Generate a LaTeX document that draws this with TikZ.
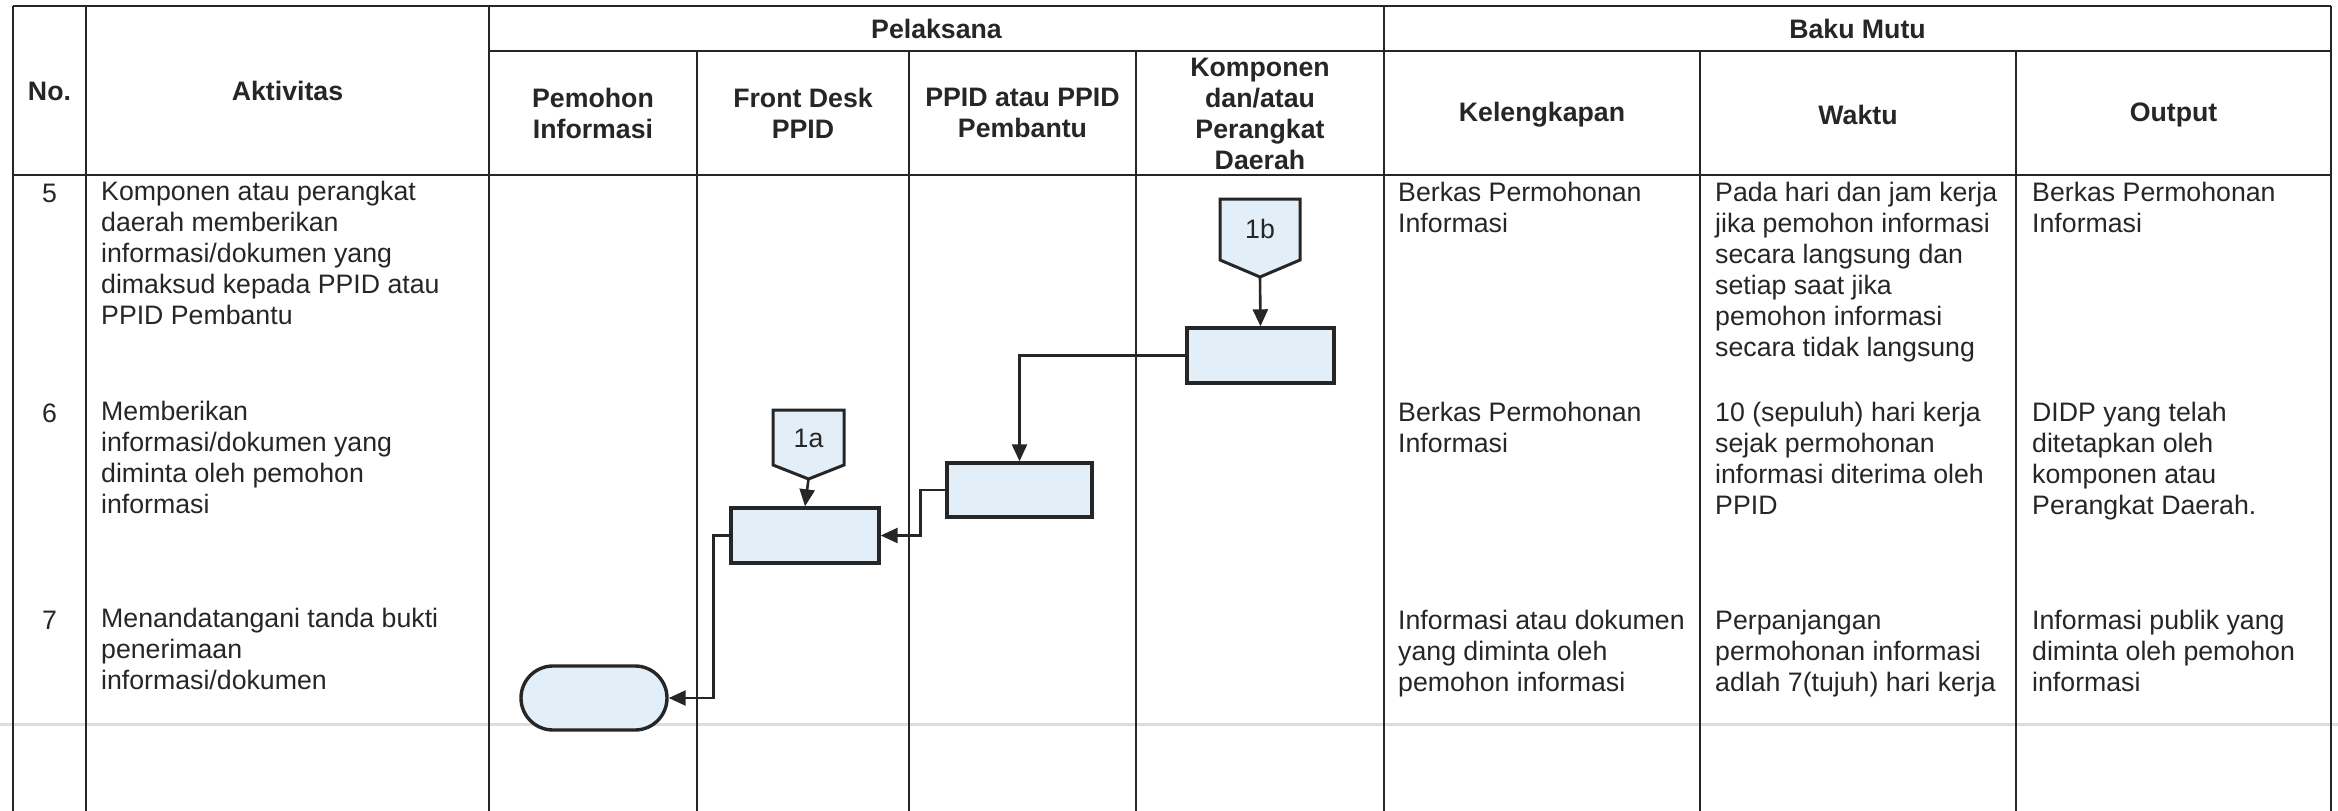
\documentclass[tikz,border=0pt]{standalone}
\usepackage{fontspec}
\setmainfont{Liberation Sans}
\usetikzlibrary{arrows.meta,calc}
\definecolor{ink}{HTML}{262626}
\definecolor{boxfill}{HTML}{E2EFF9}
\definecolor{scanline}{HTML}{DDDDDD}
\begin{document}
\begin{tikzpicture}[x=1pt,y=-1pt,
  tline/.style={draw=ink, line width=2.6pt},
  txt/.style={font=\fontsize{26.7}{31}\selectfont, text=ink, inner sep=0pt},
  cell/.style={txt, anchor=north west, align=left, execute at begin node=\strut},
  numcell/.style={txt, anchor=north, execute at begin node=\strut},
  hdr/.style={font=\bfseries\fontsize{26.7}{31}\selectfont, text=ink, inner sep=0pt, align=center},
  proc/.style={draw=ink, fill=boxfill, line width=3.4pt, rectangle, inner sep=0pt},
  term/.style={proc, rounded corners=32pt, minimum width=146pt, minimum height=64pt},
  offpage/.style={draw=ink, fill=boxfill, line width=3pt, line join=miter},
  conn/.style={draw=ink, line width=2.6pt, -{Triangle[length=17pt,width=15pt]}}
]
\useasboundingbox (0,0) rectangle (2338,811);
\fill[white] (0,0) rectangle (2338,811);
% faint scan line
\draw[scanline, line width=3pt] (0,724) -- (2338,724);

% table grid
\draw[tline] (13,6) -- (2331,6);
\draw[tline] (489,51) -- (2331,51);
\draw[tline] (13,175) -- (2331,175);
\foreach \xx in {13,86,489,1384,2331} \draw[tline] (\xx,6) -- (\xx,811);
\foreach \xx in {697,909,1136,1700,2016} \draw[tline] (\xx,51) -- (\xx,811);

% headers
\node[hdr] (hno) at (49.5,91) {No.};
\node[hdr] (hakt) at (287.5,91) {Aktivitas};
\node[hdr] (hpel) at (936.5,29) {Pelaksana};
\node[hdr] (hbaku) at (1857.5,29) {Baku Mutu};
\node[hdr] (hpem) at (593,113) {Pemohon\\Informasi};
\node[hdr] (hfd) at (803,113) {Front Desk\\PPID};
\node[hdr] (hppid) at (1022.5,113) {PPID atau PPID\\Pembantu};
\node[hdr] (hkomp) at (1260,114) {Komponen\\dan/atau\\Perangkat\\Daerah};
\node[hdr] (hkel) at (1542,115) {Kelengkapan};
\node[hdr] (hwak) at (1858,115) {Waktu};
\node[hdr] (hout) at (2173.5,115) {Output};

% row 5
\node[numcell] (n5) at (49.5,181) {5};
\node[cell] (a5) at (101,181) {Komponen atau perangkat\\daerah memberikan\\informasi/dokumen yang\\dimaksud kepada PPID atau\\PPID Pembantu};
\node[cell] (k5) at (1398,182) {Berkas Permohonan\\Informasi};
\node[cell] (w5) at (1715,182) {Pada hari dan jam kerja\\jika pemohon informasi\\secara langsung dan\\setiap saat jika\\pemohon informasi\\secara tidak langsung};
\node[cell] (o5) at (2032,182) {Berkas Permohonan\\Informasi};

% row 6
\node[numcell] (n6) at (49.5,401) {6};
\node[cell] (a6) at (101,401) {Memberikan\\informasi/dokumen yang\\diminta oleh pemohon\\informasi};
\node[cell] (k6) at (1398,402) {Berkas Permohonan\\Informasi};
\node[cell] (w6) at (1715,402) {10 (sepuluh) hari kerja\\sejak permohonan\\informasi diterima oleh\\PPID};
\node[cell] (o6) at (2032,402) {DIDP yang telah\\ditetapkan oleh\\komponen atau\\Perangkat Daerah.};

% row 7
\node[numcell] (n7) at (49.5,608) {7};
\node[cell] (a7) at (101,608) {Menandatangani tanda bukti\\penerimaan\\informasi/dokumen};
\node[cell] (k7) at (1398,610) {Informasi atau dokumen\\yang diminta oleh\\pemohon informasi};
\node[cell] (w7) at (1715,610) {Perpanjangan\\permohonan informasi\\adlah 7(tujuh) hari kerja};
\node[cell] (o7) at (2032,610) {Informasi publik yang\\diminta oleh pemohon\\informasi};

% off-page connectors
\draw[offpage] (1220,199) -- (1300,199) -- (1300,260) -- (1260,277) -- (1220,260) -- cycle;
\node[txt] (c1b) at (1260,229) {1b};
\coordinate (c1btip) at (1260,277);
\draw[offpage] (773,410) -- (844,410) -- (844,465) -- (808.5,479) -- (773,465) -- cycle;
\node[txt] (c1a) at (808.5,438) {1a};
\coordinate (c1atip) at (808.5,479);

% process boxes
\node[proc, minimum width=147pt, minimum height=55pt] (r5) at (1260.5,355.5) {};
\node[proc, minimum width=145pt, minimum height=54pt] (r6) at (1019.5,490) {};
\node[proc, minimum width=148pt, minimum height=55pt] (r6a) at (805,535.5) {};
\node[term] (t7) at (594,698) {};

% connectors
\draw[conn] (c1btip) -- (r5.north);
\draw[conn] (r5.west) -| (r6.north);
\draw[conn] (c1atip) -- (r6a.north);
\draw[conn] (r6.west) -- ++(-25,0) |- (r6a.east);
\draw[conn] (r6a.west) -- ++(-16,0) |- (t7.east);
\end{tikzpicture}
\end{document}
